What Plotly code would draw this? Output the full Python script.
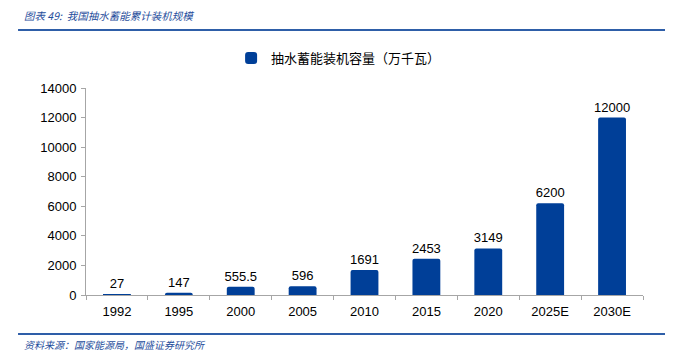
import plotly.graph_objects as go

categories = ["1992", "1995", "2000", "2005", "2010", "2015", "2020", "2025E", "2030E"]
values = [27, 147, 555.5, 596, 1691, 2453, 3149, 6200, 12000]
value_labels = ["27", "147", "555.5", "596", "1691", "2453", "3149", "6200", "12000"]
series_name = "抽水蓄能装机容量（万千瓦）"
y_ticks = [0, 2000, 4000, 6000, 8000, 10000, 12000, 14000]
y_tick_labels = ["0", "2000", "4000", "6000", "8000", "10000", "12000", "14000"]

BAR = "#003f98"
NUM_FONT = "Liberation Sans"

fig = go.Figure()
fig.add_trace(go.Bar(
    x=categories, y=values, name=series_name,
    marker=dict(color=BAR, cornerradius=2, line=dict(width=0)),
    text=value_labels, textposition="outside", cliponaxis=False, constraintext="none",
    textfont=dict(family=NUM_FONT, size=13, color="#000000"),
))

fig.update_layout(
    width=678, height=363,
    margin=dict(l=86, r=35, t=88, b=68, autoexpand=False),
    plot_bgcolor="white", paper_bgcolor="white",
    bargap=0.55,
    showlegend=True,
    legend=dict(orientation="h", x=0.4535, xanchor="center", y=1.145, yanchor="middle",
                font=dict(family="Noto Sans CJK SC", size=13, color="#000000"),
                itemwidth=30, traceorder="normal"),
    xaxis=dict(type="category", showline=True, linecolor="#a6a6a6", linewidth=1,
               ticks="outside", tickson="boundaries", ticklen=4, tickcolor="#a6a6a6",
               tickfont=dict(family=NUM_FONT, size=13, color="#000000"),
               ticklabelstandoff=4, showgrid=False, zeroline=False),
    yaxis=dict(range=[0, 14000], tickvals=y_ticks, ticktext=y_tick_labels,
               showline=True, linecolor="#a6a6a6",
               linewidth=1, ticks="outside", ticklen=4, tickcolor="#a6a6a6",
               tickfont=dict(family=NUM_FONT, size=13, color="#000000"),
               ticklabelstandoff=2, showgrid=False, zeroline=False),
)

# header / footer lines
fig.add_shape(type="line", xref="paper", yref="paper", x0=-0.122, x1=1.0395, y0=1.280, y1=1.280,
              line=dict(color="#2e5ea8", width=2))
fig.add_shape(type="line", xref="paper", yref="paper", x0=-0.122, x1=1.0395, y0=-0.188, y1=-0.188,
              line=dict(color="#2e5ea8", width=2))

fig.add_annotation(text="图表 49:  我国抽水蓄能累计装机规模", xref="paper", yref="paper",
                   x=-0.115, y=1.348, xanchor="left", yanchor="middle", showarrow=False,
                   font=dict(family="Noto Sans CJK SC", size=10.5, color="#1f4e9c", style="italic"))
fig.add_annotation(text="资料来源：国家能源局，国盛证券研究所", xref="paper", yref="paper",
                   x=-0.115, y=-0.237, xanchor="left", yanchor="middle", showarrow=False,
                   font=dict(family="Noto Sans CJK SC", size=10, color="#1f4e9c", style="italic"))

fig.write_html("out.html", config={"displayModeBar": False},
               post_script="document.body.style.margin='0';")
